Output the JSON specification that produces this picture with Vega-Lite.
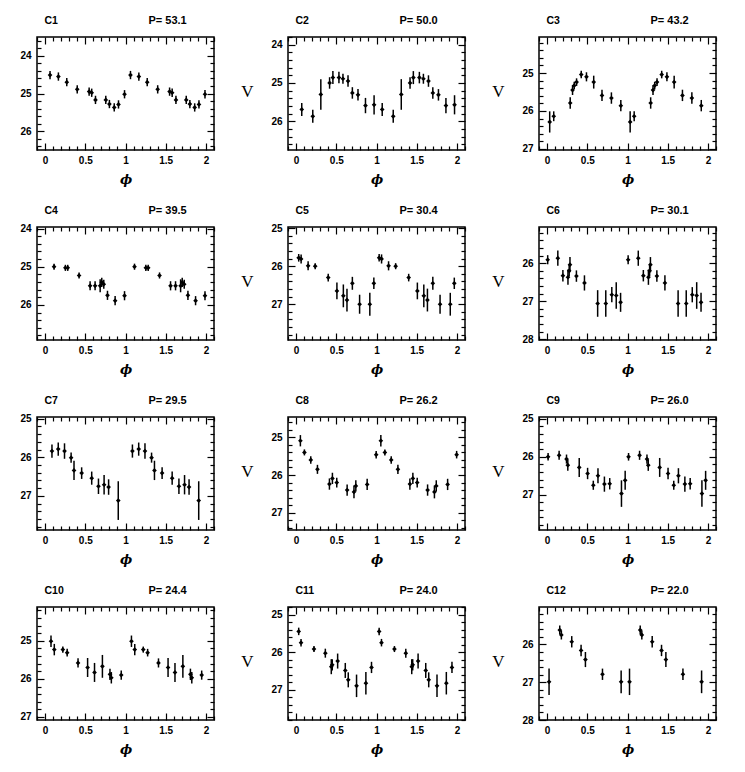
{
"$schema":"https://vega.github.io/schema/vega-lite/v6.json",
"padding":{"left":19,"top":13,"right":5,"bottom":5},
"background":"white",
"data":{"values":[
{"c":"C1","x":0.062,"v":24.51,"e":0.11},{"c":"C1","x":0.166,"v":24.55,"e":0.11},{"c":"C1","x":0.27,"v":24.7,"e":0.11},{"c":"C1","x":0.4,"v":24.89,"e":0.11},{"c":"C1","x":0.548,"v":24.95,"e":0.11},{"c":"C1","x":0.58,"v":24.98,"e":0.11},{"c":"C1","x":0.627,"v":25.17,"e":0.11},{"c":"C1","x":0.755,"v":25.17,"e":0.11},{"c":"C1","x":0.8,"v":25.28,"e":0.11},{"c":"C1","x":0.86,"v":25.37,"e":0.11},{"c":"C1","x":0.913,"v":25.29,"e":0.11},{"c":"C1","x":0.988,"v":25.02,"e":0.11},
{"c":"C1","x":1.062,"v":24.51,"e":0.11},{"c":"C1","x":1.166,"v":24.55,"e":0.11},{"c":"C1","x":1.27,"v":24.7,"e":0.11},{"c":"C1","x":1.4,"v":24.89,"e":0.11},{"c":"C1","x":1.548,"v":24.95,"e":0.11},{"c":"C1","x":1.58,"v":24.98,"e":0.11},{"c":"C1","x":1.627,"v":25.17,"e":0.11},{"c":"C1","x":1.755,"v":25.17,"e":0.11},{"c":"C1","x":1.8,"v":25.28,"e":0.11},{"c":"C1","x":1.86,"v":25.37,"e":0.11},{"c":"C1","x":1.913,"v":25.29,"e":0.11},{"c":"C1","x":1.988,"v":25.02,"e":0.11},
{"c":"C2","x":0.071,"v":25.69,"e":0.17},{"c":"C2","x":0.208,"v":25.87,"e":0.17},{"c":"C2","x":0.308,"v":25.3,"e":0.4},{"c":"C2","x":0.417,"v":25.0,"e":0.15},{"c":"C2","x":0.458,"v":24.86,"e":0.17},{"c":"C2","x":0.533,"v":24.86,"e":0.15},{"c":"C2","x":0.583,"v":24.89,"e":0.13},{"c":"C2","x":0.646,"v":24.95,"e":0.15},{"c":"C2","x":0.7,"v":25.26,"e":0.15},{"c":"C2","x":0.77,"v":25.31,"e":0.15},{"c":"C2","x":0.863,"v":25.59,"e":0.2},{"c":"C2","x":0.97,"v":25.57,"e":0.25},
{"c":"C2","x":1.071,"v":25.69,"e":0.17},{"c":"C2","x":1.208,"v":25.87,"e":0.17},{"c":"C2","x":1.308,"v":25.3,"e":0.4},{"c":"C2","x":1.417,"v":25.0,"e":0.15},{"c":"C2","x":1.458,"v":24.86,"e":0.17},{"c":"C2","x":1.533,"v":24.86,"e":0.15},{"c":"C2","x":1.583,"v":24.89,"e":0.13},{"c":"C2","x":1.646,"v":24.95,"e":0.15},{"c":"C2","x":1.7,"v":25.26,"e":0.15},{"c":"C2","x":1.77,"v":25.31,"e":0.15},{"c":"C2","x":1.863,"v":25.59,"e":0.2},{"c":"C2","x":1.97,"v":25.57,"e":0.25},
{"c":"C3","x":0.033,"v":26.29,"e":0.28},{"c":"C3","x":0.083,"v":26.14,"e":0.13},{"c":"C3","x":0.288,"v":25.79,"e":0.15},{"c":"C3","x":0.317,"v":25.45,"e":0.13},{"c":"C3","x":0.338,"v":25.33,"e":0.1},{"c":"C3","x":0.367,"v":25.24,"e":0.1},{"c":"C3","x":0.425,"v":25.04,"e":0.1},{"c":"C3","x":0.49,"v":25.1,"e":0.12},{"c":"C3","x":0.58,"v":25.24,"e":0.17},{"c":"C3","x":0.683,"v":25.59,"e":0.15},{"c":"C3","x":0.8,"v":25.66,"e":0.15},{"c":"C3","x":0.917,"v":25.86,"e":0.15},
{"c":"C3","x":1.033,"v":26.29,"e":0.28},{"c":"C3","x":1.083,"v":26.14,"e":0.13},{"c":"C3","x":1.288,"v":25.79,"e":0.15},{"c":"C3","x":1.317,"v":25.45,"e":0.13},{"c":"C3","x":1.338,"v":25.33,"e":0.1},{"c":"C3","x":1.367,"v":25.24,"e":0.1},{"c":"C3","x":1.425,"v":25.04,"e":0.1},{"c":"C3","x":1.49,"v":25.1,"e":0.12},{"c":"C3","x":1.58,"v":25.24,"e":0.17},{"c":"C3","x":1.683,"v":25.59,"e":0.15},{"c":"C3","x":1.8,"v":25.66,"e":0.15},{"c":"C3","x":1.917,"v":25.86,"e":0.15},
{"c":"C4","x":0.112,"v":25.0,"e":0.08},{"c":"C4","x":0.253,"v":25.03,"e":0.08},{"c":"C4","x":0.282,"v":25.03,"e":0.08},{"c":"C4","x":0.423,"v":25.23,"e":0.08},{"c":"C4","x":0.56,"v":25.5,"e":0.12},{"c":"C4","x":0.622,"v":25.5,"e":0.12},{"c":"C4","x":0.685,"v":25.5,"e":0.17},{"c":"C4","x":0.705,"v":25.41,"e":0.12},{"c":"C4","x":0.73,"v":25.46,"e":0.12},{"c":"C4","x":0.776,"v":25.75,"e":0.12},{"c":"C4","x":0.871,"v":25.89,"e":0.12},{"c":"C4","x":0.988,"v":25.76,"e":0.12},
{"c":"C4","x":1.112,"v":25.0,"e":0.08},{"c":"C4","x":1.253,"v":25.03,"e":0.08},{"c":"C4","x":1.282,"v":25.03,"e":0.08},{"c":"C4","x":1.423,"v":25.23,"e":0.08},{"c":"C4","x":1.56,"v":25.5,"e":0.12},{"c":"C4","x":1.622,"v":25.5,"e":0.12},{"c":"C4","x":1.685,"v":25.5,"e":0.17},{"c":"C4","x":1.705,"v":25.41,"e":0.12},{"c":"C4","x":1.73,"v":25.46,"e":0.12},{"c":"C4","x":1.776,"v":25.75,"e":0.12},{"c":"C4","x":1.871,"v":25.89,"e":0.12},{"c":"C4","x":1.988,"v":25.76,"e":0.12},
{"c":"C5","x":0.033,"v":25.78,"e":0.1},{"c":"C5","x":0.063,"v":25.81,"e":0.12},{"c":"C5","x":0.15,"v":25.99,"e":0.12},{"c":"C5","x":0.238,"v":26.0,"e":0.08},{"c":"C5","x":0.4,"v":26.3,"e":0.1},{"c":"C5","x":0.508,"v":26.65,"e":0.22},{"c":"C5","x":0.588,"v":26.78,"e":0.3},{"c":"C5","x":0.633,"v":26.89,"e":0.3},{"c":"C5","x":0.7,"v":26.45,"e":0.17},{"c":"C5","x":0.79,"v":27.0,"e":0.25},{"c":"C5","x":0.917,"v":27.0,"e":0.3},{"c":"C5","x":0.967,"v":26.45,"e":0.15},
{"c":"C5","x":1.033,"v":25.78,"e":0.1},{"c":"C5","x":1.063,"v":25.81,"e":0.12},{"c":"C5","x":1.15,"v":25.99,"e":0.12},{"c":"C5","x":1.238,"v":26.0,"e":0.08},{"c":"C5","x":1.4,"v":26.3,"e":0.1},{"c":"C5","x":1.508,"v":26.65,"e":0.22},{"c":"C5","x":1.588,"v":26.78,"e":0.3},{"c":"C5","x":1.633,"v":26.89,"e":0.3},{"c":"C5","x":1.7,"v":26.45,"e":0.17},{"c":"C5","x":1.79,"v":27.0,"e":0.25},{"c":"C5","x":1.917,"v":27.0,"e":0.3},{"c":"C5","x":1.967,"v":26.45,"e":0.15},
{"c":"C6","x":0.008,"v":25.91,"e":0.12},{"c":"C6","x":0.134,"v":25.87,"e":0.2},{"c":"C6","x":0.197,"v":26.33,"e":0.15},{"c":"C6","x":0.26,"v":26.37,"e":0.2},{"c":"C6","x":0.275,"v":26.2,"e":0.15},{"c":"C6","x":0.285,"v":26.04,"e":0.2},{"c":"C6","x":0.365,"v":26.34,"e":0.15},{"c":"C6","x":0.465,"v":26.52,"e":0.2},{"c":"C6","x":0.629,"v":27.06,"e":0.35},{"c":"C6","x":0.73,"v":27.06,"e":0.35},{"c":"C6","x":0.805,"v":26.83,"e":0.2},{"c":"C6","x":0.86,"v":26.85,"e":0.35},{"c":"C6","x":0.914,"v":27.03,"e":0.25},
{"c":"C6","x":1.008,"v":25.91,"e":0.12},{"c":"C6","x":1.134,"v":25.87,"e":0.2},{"c":"C6","x":1.197,"v":26.33,"e":0.15},{"c":"C6","x":1.26,"v":26.37,"e":0.2},{"c":"C6","x":1.275,"v":26.2,"e":0.15},{"c":"C6","x":1.285,"v":26.04,"e":0.2},{"c":"C6","x":1.365,"v":26.34,"e":0.15},{"c":"C6","x":1.465,"v":26.52,"e":0.2},{"c":"C6","x":1.629,"v":27.06,"e":0.35},{"c":"C6","x":1.73,"v":27.06,"e":0.35},{"c":"C6","x":1.805,"v":26.83,"e":0.2},{"c":"C6","x":1.86,"v":26.85,"e":0.35},{"c":"C6","x":1.914,"v":27.03,"e":0.25},
{"c":"C7","x":0.086,"v":25.84,"e":0.17},{"c":"C7","x":0.164,"v":25.79,"e":0.17},{"c":"C7","x":0.242,"v":25.84,"e":0.2},{"c":"C7","x":0.324,"v":26.01,"e":0.13},{"c":"C7","x":0.36,"v":26.34,"e":0.25},{"c":"C7","x":0.455,"v":26.41,"e":0.15},{"c":"C7","x":0.58,"v":26.54,"e":0.17},{"c":"C7","x":0.664,"v":26.75,"e":0.2},{"c":"C7","x":0.734,"v":26.71,"e":0.25},{"c":"C7","x":0.79,"v":26.77,"e":0.2},{"c":"C7","x":0.91,"v":27.12,"e":0.5},
{"c":"C7","x":1.086,"v":25.84,"e":0.17},{"c":"C7","x":1.164,"v":25.79,"e":0.17},{"c":"C7","x":1.242,"v":25.84,"e":0.2},{"c":"C7","x":1.324,"v":26.01,"e":0.13},{"c":"C7","x":1.36,"v":26.34,"e":0.25},{"c":"C7","x":1.455,"v":26.41,"e":0.15},{"c":"C7","x":1.58,"v":26.54,"e":0.17},{"c":"C7","x":1.664,"v":26.75,"e":0.2},{"c":"C7","x":1.734,"v":26.71,"e":0.25},{"c":"C7","x":1.79,"v":26.77,"e":0.2},{"c":"C7","x":1.91,"v":27.12,"e":0.5},
{"c":"C8","x":0.054,"v":25.09,"e":0.15},{"c":"C8","x":0.104,"v":25.4,"e":0.08},{"c":"C8","x":0.183,"v":25.6,"e":0.1},{"c":"C8","x":0.266,"v":25.85,"e":0.12},{"c":"C8","x":0.415,"v":26.24,"e":0.15},{"c":"C8","x":0.452,"v":26.09,"e":0.15},{"c":"C8","x":0.506,"v":26.2,"e":0.13},{"c":"C8","x":0.635,"v":26.4,"e":0.15},{"c":"C8","x":0.72,"v":26.45,"e":0.17},{"c":"C8","x":0.743,"v":26.29,"e":0.15},{"c":"C8","x":0.884,"v":26.25,"e":0.15},{"c":"C8","x":0.996,"v":25.46,"e":0.1},
{"c":"C8","x":1.054,"v":25.09,"e":0.15},{"c":"C8","x":1.104,"v":25.4,"e":0.08},{"c":"C8","x":1.183,"v":25.6,"e":0.1},{"c":"C8","x":1.266,"v":25.85,"e":0.12},{"c":"C8","x":1.415,"v":26.24,"e":0.15},{"c":"C8","x":1.452,"v":26.09,"e":0.15},{"c":"C8","x":1.506,"v":26.2,"e":0.13},{"c":"C8","x":1.635,"v":26.4,"e":0.15},{"c":"C8","x":1.72,"v":26.45,"e":0.17},{"c":"C8","x":1.743,"v":26.29,"e":0.15},{"c":"C8","x":1.884,"v":26.25,"e":0.15},{"c":"C8","x":1.996,"v":25.46,"e":0.1},
{"c":"C9","x":0.013,"v":26.0,"e":0.1},{"c":"C9","x":0.15,"v":25.96,"e":0.12},{"c":"C9","x":0.242,"v":26.06,"e":0.12},{"c":"C9","x":0.258,"v":26.22,"e":0.15},{"c":"C9","x":0.4,"v":26.28,"e":0.25},{"c":"C9","x":0.504,"v":26.44,"e":0.15},{"c":"C9","x":0.575,"v":26.75,"e":0.12},{"c":"C9","x":0.633,"v":26.5,"e":0.2},{"c":"C9","x":0.713,"v":26.72,"e":0.2},{"c":"C9","x":0.779,"v":26.71,"e":0.15},{"c":"C9","x":0.925,"v":26.97,"e":0.35},{"c":"C9","x":0.971,"v":26.62,"e":0.25},
{"c":"C9","x":1.013,"v":26.0,"e":0.1},{"c":"C9","x":1.15,"v":25.96,"e":0.12},{"c":"C9","x":1.242,"v":26.06,"e":0.12},{"c":"C9","x":1.258,"v":26.22,"e":0.15},{"c":"C9","x":1.4,"v":26.28,"e":0.25},{"c":"C9","x":1.504,"v":26.44,"e":0.15},{"c":"C9","x":1.575,"v":26.75,"e":0.12},{"c":"C9","x":1.633,"v":26.5,"e":0.2},{"c":"C9","x":1.713,"v":26.72,"e":0.2},{"c":"C9","x":1.779,"v":26.71,"e":0.15},{"c":"C9","x":1.925,"v":26.97,"e":0.35},{"c":"C9","x":1.971,"v":26.62,"e":0.25},
{"c":"C10","x":0.074,"v":25.01,"e":0.15},{"c":"C10","x":0.115,"v":25.23,"e":0.15},{"c":"C10","x":0.221,"v":25.23,"e":0.08},{"c":"C10","x":0.275,"v":25.31,"e":0.1},{"c":"C10","x":0.41,"v":25.58,"e":0.12},{"c":"C10","x":0.529,"v":25.7,"e":0.25},{"c":"C10","x":0.615,"v":25.83,"e":0.25},{"c":"C10","x":0.713,"v":25.67,"e":0.3},{"c":"C10","x":0.807,"v":25.88,"e":0.15},{"c":"C10","x":0.824,"v":25.97,"e":0.15},{"c":"C10","x":0.947,"v":25.9,"e":0.12},
{"c":"C10","x":1.074,"v":25.01,"e":0.15},{"c":"C10","x":1.115,"v":25.23,"e":0.15},{"c":"C10","x":1.221,"v":25.23,"e":0.08},{"c":"C10","x":1.275,"v":25.31,"e":0.1},{"c":"C10","x":1.41,"v":25.58,"e":0.12},{"c":"C10","x":1.529,"v":25.7,"e":0.25},{"c":"C10","x":1.615,"v":25.83,"e":0.25},{"c":"C10","x":1.713,"v":25.67,"e":0.3},{"c":"C10","x":1.807,"v":25.88,"e":0.15},{"c":"C10","x":1.824,"v":25.97,"e":0.15},{"c":"C10","x":1.947,"v":25.9,"e":0.12},
{"c":"C11","x":0.033,"v":25.44,"e":0.1},{"c":"C11","x":0.062,"v":25.74,"e":0.1},{"c":"C11","x":0.223,"v":25.91,"e":0.08},{"c":"C11","x":0.364,"v":26.02,"e":0.12},{"c":"C11","x":0.438,"v":26.38,"e":0.2},{"c":"C11","x":0.45,"v":26.33,"e":0.15},{"c":"C11","x":0.517,"v":26.23,"e":0.2},{"c":"C11","x":0.612,"v":26.48,"e":0.2},{"c":"C11","x":0.649,"v":26.73,"e":0.2},{"c":"C11","x":0.752,"v":26.89,"e":0.3},{"c":"C11","x":0.868,"v":26.82,"e":0.3},{"c":"C11","x":0.938,"v":26.4,"e":0.15},
{"c":"C11","x":1.033,"v":25.44,"e":0.1},{"c":"C11","x":1.062,"v":25.74,"e":0.1},{"c":"C11","x":1.223,"v":25.91,"e":0.08},{"c":"C11","x":1.364,"v":26.02,"e":0.12},{"c":"C11","x":1.438,"v":26.38,"e":0.2},{"c":"C11","x":1.45,"v":26.33,"e":0.15},{"c":"C11","x":1.517,"v":26.23,"e":0.2},{"c":"C11","x":1.612,"v":26.48,"e":0.2},{"c":"C11","x":1.649,"v":26.73,"e":0.2},{"c":"C11","x":1.752,"v":26.89,"e":0.3},{"c":"C11","x":1.868,"v":26.82,"e":0.3},{"c":"C11","x":1.938,"v":26.4,"e":0.15},
{"c":"C12","x":0.025,"v":26.99,"e":0.35},{"c":"C12","x":0.158,"v":25.62,"e":0.12},{"c":"C12","x":0.178,"v":25.75,"e":0.12},{"c":"C12","x":0.307,"v":25.93,"e":0.15},{"c":"C12","x":0.423,"v":26.16,"e":0.15},{"c":"C12","x":0.477,"v":26.4,"e":0.2},{"c":"C12","x":0.689,"v":26.79,"e":0.15},{"c":"C12","x":0.921,"v":26.99,"e":0.3},
{"c":"C12","x":1.025,"v":26.99,"e":0.35},{"c":"C12","x":1.158,"v":25.62,"e":0.12},{"c":"C12","x":1.178,"v":25.75,"e":0.12},{"c":"C12","x":1.307,"v":25.93,"e":0.15},{"c":"C12","x":1.423,"v":26.16,"e":0.15},{"c":"C12","x":1.477,"v":26.4,"e":0.2},{"c":"C12","x":1.689,"v":26.79,"e":0.15},{"c":"C12","x":1.921,"v":26.99,"e":0.3}
]},
"spacing":16,
"vconcat":[
{"spacing":74,"bounds":"flush","hconcat":[
{"width":177,"height":113,"transform":[{"filter":{"field":"c","equal":"C1"}}],"resolve":{"axis":{"x":"independent","y":"independent"}},"layer":[
{"mark":{"type":"errorbar","color":"black","thickness":1.5},"encoding":{"x":{"field":"x","type":"quantitative","scale":{"domain":[-0.1,2.1],"nice":false},"axis":{"orient":"bottom","tickCount":22,"tickSize":{"condition":{"test":"abs(datum.value*2-round(datum.value*2))<1e-6","value":-7},"value":-4},"labelPadding":12,"labelExpr":"abs(datum.value*2-round(datum.value*2))<1e-6 ? ''+datum.value : ''","title":"ϕ","titleY":29}},"y":{"field":"v","type":"quantitative","scale":{"domain":[23.5,26.5],"reverse":true,"nice":false,"zero":false},"axis":{"orient":"left","tickCount":15,"tickSize":{"condition":{"test":"abs(datum.value-round(datum.value))<1e-6","value":-7},"value":-4},"labelPadding":13,"labelExpr":"abs(datum.value-round(datum.value))<1e-6 ? ''+datum.value : ''","title":null}},"yError":{"field":"e"}}},
{"mark":{"type":"point","shape":"diamond","filled":true,"size":22,"color":"black","opacity":1},"encoding":{"x":{"field":"x","type":"quantitative","axis":{"orient":"top","tickCount":22,"tickSize":{"condition":{"test":"abs(datum.value*2-round(datum.value*2))<1e-6","value":-7},"value":-4},"labels":false,"title":"C1","titleX":7,"titleY":-17,"titleAlign":"left","titleBaseline":"middle","titleFont":"Liberation Sans","titleFontSize":10.5,"titleFontWeight":"bold"}},"y":{"field":"v","type":"quantitative","axis":{"orient":"right","tickCount":15,"tickSize":{"condition":{"test":"abs(datum.value-round(datum.value))<1e-6","value":-7},"value":-4},"labels":false,"title":"P= 53.1","titleAngle":0,"titleX":-66,"titleY":-17,"titleAlign":"left","titleBaseline":"middle","titleFont":"Liberation Sans","titleFontSize":11,"titleFontWeight":"bold"}}}}
]},
{"width":177,"height":113,"transform":[{"filter":{"field":"c","equal":"C2"}}],"resolve":{"axis":{"x":"independent","y":"independent"}},"layer":[
{"mark":{"type":"errorbar","color":"black","thickness":1.5},"encoding":{"x":{"field":"x","type":"quantitative","scale":{"domain":[-0.1,2.1],"nice":false},"axis":{"orient":"bottom","tickCount":22,"tickSize":{"condition":{"test":"abs(datum.value*2-round(datum.value*2))<1e-6","value":-7},"value":-4},"labelPadding":12,"labelExpr":"abs(datum.value*2-round(datum.value*2))<1e-6 ? ''+datum.value : ''","title":"ϕ","titleY":29}},"y":{"field":"v","type":"quantitative","scale":{"domain":[23.8,26.75],"reverse":true,"nice":false,"zero":false},"axis":{"orient":"left","tickCount":15,"tickSize":{"condition":{"test":"abs(datum.value-round(datum.value))<1e-6","value":-7},"value":-4},"labelPadding":13,"labelExpr":"abs(datum.value-round(datum.value))<1e-6 ? ''+datum.value : ''","title":"V","titleAngle":0,"titleX":-41,"titleY":54,"titleAlign":"center","titleBaseline":"middle","titleFont":"Liberation Serif","titleFontSize":17,"titleFontWeight":"normal"}},"yError":{"field":"e"}}},
{"mark":{"type":"point","shape":"diamond","filled":true,"size":22,"color":"black","opacity":1},"encoding":{"x":{"field":"x","type":"quantitative","axis":{"orient":"top","tickCount":22,"tickSize":{"condition":{"test":"abs(datum.value*2-round(datum.value*2))<1e-6","value":-7},"value":-4},"labels":false,"title":"C2","titleX":7,"titleY":-17,"titleAlign":"left","titleBaseline":"middle","titleFont":"Liberation Sans","titleFontSize":10.5,"titleFontWeight":"bold"}},"y":{"field":"v","type":"quantitative","axis":{"orient":"right","tickCount":15,"tickSize":{"condition":{"test":"abs(datum.value-round(datum.value))<1e-6","value":-7},"value":-4},"labels":false,"title":"P= 50.0","titleAngle":0,"titleX":-66,"titleY":-17,"titleAlign":"left","titleBaseline":"middle","titleFont":"Liberation Sans","titleFontSize":11,"titleFontWeight":"bold"}}}}
]},
{"width":177,"height":113,"transform":[{"filter":{"field":"c","equal":"C3"}}],"resolve":{"axis":{"x":"independent","y":"independent"}},"layer":[
{"mark":{"type":"errorbar","color":"black","thickness":1.5},"encoding":{"x":{"field":"x","type":"quantitative","scale":{"domain":[-0.1,2.1],"nice":false},"axis":{"orient":"bottom","tickCount":22,"tickSize":{"condition":{"test":"abs(datum.value*2-round(datum.value*2))<1e-6","value":-7},"value":-4},"labelPadding":12,"labelExpr":"abs(datum.value*2-round(datum.value*2))<1e-6 ? ''+datum.value : ''","title":"ϕ","titleY":29}},"y":{"field":"v","type":"quantitative","scale":{"domain":[24.05,27.03],"reverse":true,"nice":false,"zero":false},"axis":{"orient":"left","tickCount":15,"tickSize":{"condition":{"test":"abs(datum.value-round(datum.value))<1e-6","value":-7},"value":-4},"labelPadding":13,"labelExpr":"abs(datum.value-round(datum.value))<1e-6 ? ''+datum.value : ''","title":"V","titleAngle":0,"titleX":-41,"titleY":54,"titleAlign":"center","titleBaseline":"middle","titleFont":"Liberation Serif","titleFontSize":17,"titleFontWeight":"normal"}},"yError":{"field":"e"}}},
{"mark":{"type":"point","shape":"diamond","filled":true,"size":22,"color":"black","opacity":1},"encoding":{"x":{"field":"x","type":"quantitative","axis":{"orient":"top","tickCount":22,"tickSize":{"condition":{"test":"abs(datum.value*2-round(datum.value*2))<1e-6","value":-7},"value":-4},"labels":false,"title":"C3","titleX":7,"titleY":-17,"titleAlign":"left","titleBaseline":"middle","titleFont":"Liberation Sans","titleFontSize":10.5,"titleFontWeight":"bold"}},"y":{"field":"v","type":"quantitative","axis":{"orient":"right","tickCount":15,"tickSize":{"condition":{"test":"abs(datum.value-round(datum.value))<1e-6","value":-7},"value":-4},"labels":false,"title":"P= 43.2","titleAngle":0,"titleX":-66,"titleY":-17,"titleAlign":"left","titleBaseline":"middle","titleFont":"Liberation Sans","titleFontSize":11,"titleFontWeight":"bold"}}}}
]}
]},
{"spacing":74,"bounds":"flush","hconcat":[
{"width":177,"height":113,"transform":[{"filter":{"field":"c","equal":"C4"}}],"resolve":{"axis":{"x":"independent","y":"independent"}},"layer":[
{"mark":{"type":"errorbar","color":"black","thickness":1.5},"encoding":{"x":{"field":"x","type":"quantitative","scale":{"domain":[-0.1,2.1],"nice":false},"axis":{"orient":"bottom","tickCount":22,"tickSize":{"condition":{"test":"abs(datum.value*2-round(datum.value*2))<1e-6","value":-7},"value":-4},"labelPadding":12,"labelExpr":"abs(datum.value*2-round(datum.value*2))<1e-6 ? ''+datum.value : ''","title":"ϕ","titleY":29}},"y":{"field":"v","type":"quantitative","scale":{"domain":[23.96,26.92],"reverse":true,"nice":false,"zero":false},"axis":{"orient":"left","tickCount":15,"tickSize":{"condition":{"test":"abs(datum.value-round(datum.value))<1e-6","value":-7},"value":-4},"labelPadding":13,"labelExpr":"abs(datum.value-round(datum.value))<1e-6 ? ''+datum.value : ''","title":null}},"yError":{"field":"e"}}},
{"mark":{"type":"point","shape":"diamond","filled":true,"size":22,"color":"black","opacity":1},"encoding":{"x":{"field":"x","type":"quantitative","axis":{"orient":"top","tickCount":22,"tickSize":{"condition":{"test":"abs(datum.value*2-round(datum.value*2))<1e-6","value":-7},"value":-4},"labels":false,"title":"C4","titleX":7,"titleY":-17,"titleAlign":"left","titleBaseline":"middle","titleFont":"Liberation Sans","titleFontSize":10.5,"titleFontWeight":"bold"}},"y":{"field":"v","type":"quantitative","axis":{"orient":"right","tickCount":15,"tickSize":{"condition":{"test":"abs(datum.value-round(datum.value))<1e-6","value":-7},"value":-4},"labels":false,"title":"P= 39.5","titleAngle":0,"titleX":-66,"titleY":-17,"titleAlign":"left","titleBaseline":"middle","titleFont":"Liberation Sans","titleFontSize":11,"titleFontWeight":"bold"}}}}
]},
{"width":177,"height":113,"transform":[{"filter":{"field":"c","equal":"C5"}}],"resolve":{"axis":{"x":"independent","y":"independent"}},"layer":[
{"mark":{"type":"errorbar","color":"black","thickness":1.5},"encoding":{"x":{"field":"x","type":"quantitative","scale":{"domain":[-0.1,2.1],"nice":false},"axis":{"orient":"bottom","tickCount":22,"tickSize":{"condition":{"test":"abs(datum.value*2-round(datum.value*2))<1e-6","value":-7},"value":-4},"labelPadding":12,"labelExpr":"abs(datum.value*2-round(datum.value*2))<1e-6 ? ''+datum.value : ''","title":"ϕ","titleY":29}},"y":{"field":"v","type":"quantitative","scale":{"domain":[24.97,27.94],"reverse":true,"nice":false,"zero":false},"axis":{"orient":"left","tickCount":15,"tickSize":{"condition":{"test":"abs(datum.value-round(datum.value))<1e-6","value":-7},"value":-4},"labelPadding":13,"labelExpr":"abs(datum.value-round(datum.value))<1e-6 ? ''+datum.value : ''","title":"V","titleAngle":0,"titleX":-41,"titleY":54,"titleAlign":"center","titleBaseline":"middle","titleFont":"Liberation Serif","titleFontSize":17,"titleFontWeight":"normal"}},"yError":{"field":"e"}}},
{"mark":{"type":"point","shape":"diamond","filled":true,"size":22,"color":"black","opacity":1},"encoding":{"x":{"field":"x","type":"quantitative","axis":{"orient":"top","tickCount":22,"tickSize":{"condition":{"test":"abs(datum.value*2-round(datum.value*2))<1e-6","value":-7},"value":-4},"labels":false,"title":"C5","titleX":7,"titleY":-17,"titleAlign":"left","titleBaseline":"middle","titleFont":"Liberation Sans","titleFontSize":10.5,"titleFontWeight":"bold"}},"y":{"field":"v","type":"quantitative","axis":{"orient":"right","tickCount":15,"tickSize":{"condition":{"test":"abs(datum.value-round(datum.value))<1e-6","value":-7},"value":-4},"labels":false,"title":"P= 30.4","titleAngle":0,"titleX":-66,"titleY":-17,"titleAlign":"left","titleBaseline":"middle","titleFont":"Liberation Sans","titleFontSize":11,"titleFontWeight":"bold"}}}}
]},
{"width":177,"height":113,"transform":[{"filter":{"field":"c","equal":"C6"}}],"resolve":{"axis":{"x":"independent","y":"independent"}},"layer":[
{"mark":{"type":"errorbar","color":"black","thickness":1.5},"encoding":{"x":{"field":"x","type":"quantitative","scale":{"domain":[-0.1,2.1],"nice":false},"axis":{"orient":"bottom","tickCount":22,"tickSize":{"condition":{"test":"abs(datum.value*2-round(datum.value*2))<1e-6","value":-7},"value":-4},"labelPadding":12,"labelExpr":"abs(datum.value*2-round(datum.value*2))<1e-6 ? ''+datum.value : ''","title":"ϕ","titleY":29}},"y":{"field":"v","type":"quantitative","scale":{"domain":[25.05,28.02],"reverse":true,"nice":false,"zero":false},"axis":{"orient":"left","tickCount":15,"tickSize":{"condition":{"test":"abs(datum.value-round(datum.value))<1e-6","value":-7},"value":-4},"labelPadding":13,"labelExpr":"abs(datum.value-round(datum.value))<1e-6 ? ''+datum.value : ''","title":"V","titleAngle":0,"titleX":-41,"titleY":54,"titleAlign":"center","titleBaseline":"middle","titleFont":"Liberation Serif","titleFontSize":17,"titleFontWeight":"normal"}},"yError":{"field":"e"}}},
{"mark":{"type":"point","shape":"diamond","filled":true,"size":22,"color":"black","opacity":1},"encoding":{"x":{"field":"x","type":"quantitative","axis":{"orient":"top","tickCount":22,"tickSize":{"condition":{"test":"abs(datum.value*2-round(datum.value*2))<1e-6","value":-7},"value":-4},"labels":false,"title":"C6","titleX":7,"titleY":-17,"titleAlign":"left","titleBaseline":"middle","titleFont":"Liberation Sans","titleFontSize":10.5,"titleFontWeight":"bold"}},"y":{"field":"v","type":"quantitative","axis":{"orient":"right","tickCount":15,"tickSize":{"condition":{"test":"abs(datum.value-round(datum.value))<1e-6","value":-7},"value":-4},"labels":false,"title":"P= 30.1","titleAngle":0,"titleX":-66,"titleY":-17,"titleAlign":"left","titleBaseline":"middle","titleFont":"Liberation Sans","titleFontSize":11,"titleFontWeight":"bold"}}}}
]}
]},
{"spacing":74,"bounds":"flush","hconcat":[
{"width":177,"height":113,"transform":[{"filter":{"field":"c","equal":"C7"}}],"resolve":{"axis":{"x":"independent","y":"independent"}},"layer":[
{"mark":{"type":"errorbar","color":"black","thickness":1.5},"encoding":{"x":{"field":"x","type":"quantitative","scale":{"domain":[-0.1,2.1],"nice":false},"axis":{"orient":"bottom","tickCount":22,"tickSize":{"condition":{"test":"abs(datum.value*2-round(datum.value*2))<1e-6","value":-7},"value":-4},"labelPadding":12,"labelExpr":"abs(datum.value*2-round(datum.value*2))<1e-6 ? ''+datum.value : ''","title":"ϕ","titleY":29}},"y":{"field":"v","type":"quantitative","scale":{"domain":[24.96,27.88],"reverse":true,"nice":false,"zero":false},"axis":{"orient":"left","tickCount":15,"tickSize":{"condition":{"test":"abs(datum.value-round(datum.value))<1e-6","value":-7},"value":-4},"labelPadding":13,"labelExpr":"abs(datum.value-round(datum.value))<1e-6 ? ''+datum.value : ''","title":null}},"yError":{"field":"e"}}},
{"mark":{"type":"point","shape":"diamond","filled":true,"size":22,"color":"black","opacity":1},"encoding":{"x":{"field":"x","type":"quantitative","axis":{"orient":"top","tickCount":22,"tickSize":{"condition":{"test":"abs(datum.value*2-round(datum.value*2))<1e-6","value":-7},"value":-4},"labels":false,"title":"C7","titleX":7,"titleY":-17,"titleAlign":"left","titleBaseline":"middle","titleFont":"Liberation Sans","titleFontSize":10.5,"titleFontWeight":"bold"}},"y":{"field":"v","type":"quantitative","axis":{"orient":"right","tickCount":15,"tickSize":{"condition":{"test":"abs(datum.value-round(datum.value))<1e-6","value":-7},"value":-4},"labels":false,"title":"P= 29.5","titleAngle":0,"titleX":-66,"titleY":-17,"titleAlign":"left","titleBaseline":"middle","titleFont":"Liberation Sans","titleFontSize":11,"titleFontWeight":"bold"}}}}
]},
{"width":177,"height":113,"transform":[{"filter":{"field":"c","equal":"C8"}}],"resolve":{"axis":{"x":"independent","y":"independent"}},"layer":[
{"mark":{"type":"errorbar","color":"black","thickness":1.5},"encoding":{"x":{"field":"x","type":"quantitative","scale":{"domain":[-0.1,2.1],"nice":false},"axis":{"orient":"bottom","tickCount":22,"tickSize":{"condition":{"test":"abs(datum.value*2-round(datum.value*2))<1e-6","value":-7},"value":-4},"labelPadding":12,"labelExpr":"abs(datum.value*2-round(datum.value*2))<1e-6 ? ''+datum.value : ''","title":"ϕ","titleY":29}},"y":{"field":"v","type":"quantitative","scale":{"domain":[24.46,27.46],"reverse":true,"nice":false,"zero":false},"axis":{"orient":"left","tickCount":15,"tickSize":{"condition":{"test":"abs(datum.value-round(datum.value))<1e-6","value":-7},"value":-4},"labelPadding":13,"labelExpr":"abs(datum.value-round(datum.value))<1e-6 ? ''+datum.value : ''","title":"V","titleAngle":0,"titleX":-41,"titleY":54,"titleAlign":"center","titleBaseline":"middle","titleFont":"Liberation Serif","titleFontSize":17,"titleFontWeight":"normal"}},"yError":{"field":"e"}}},
{"mark":{"type":"point","shape":"diamond","filled":true,"size":22,"color":"black","opacity":1},"encoding":{"x":{"field":"x","type":"quantitative","axis":{"orient":"top","tickCount":22,"tickSize":{"condition":{"test":"abs(datum.value*2-round(datum.value*2))<1e-6","value":-7},"value":-4},"labels":false,"title":"C8","titleX":7,"titleY":-17,"titleAlign":"left","titleBaseline":"middle","titleFont":"Liberation Sans","titleFontSize":10.5,"titleFontWeight":"bold"}},"y":{"field":"v","type":"quantitative","axis":{"orient":"right","tickCount":15,"tickSize":{"condition":{"test":"abs(datum.value-round(datum.value))<1e-6","value":-7},"value":-4},"labels":false,"title":"P= 26.2","titleAngle":0,"titleX":-66,"titleY":-17,"titleAlign":"left","titleBaseline":"middle","titleFont":"Liberation Sans","titleFontSize":11,"titleFontWeight":"bold"}}}}
]},
{"width":177,"height":113,"transform":[{"filter":{"field":"c","equal":"C9"}}],"resolve":{"axis":{"x":"independent","y":"independent"}},"layer":[
{"mark":{"type":"errorbar","color":"black","thickness":1.5},"encoding":{"x":{"field":"x","type":"quantitative","scale":{"domain":[-0.1,2.1],"nice":false},"axis":{"orient":"bottom","tickCount":22,"tickSize":{"condition":{"test":"abs(datum.value*2-round(datum.value*2))<1e-6","value":-7},"value":-4},"labelPadding":12,"labelExpr":"abs(datum.value*2-round(datum.value*2))<1e-6 ? ''+datum.value : ''","title":"ϕ","titleY":29}},"y":{"field":"v","type":"quantitative","scale":{"domain":[24.95,27.93],"reverse":true,"nice":false,"zero":false},"axis":{"orient":"left","tickCount":15,"tickSize":{"condition":{"test":"abs(datum.value-round(datum.value))<1e-6","value":-7},"value":-4},"labelPadding":13,"labelExpr":"abs(datum.value-round(datum.value))<1e-6 ? ''+datum.value : ''","title":"V","titleAngle":0,"titleX":-41,"titleY":54,"titleAlign":"center","titleBaseline":"middle","titleFont":"Liberation Serif","titleFontSize":17,"titleFontWeight":"normal"}},"yError":{"field":"e"}}},
{"mark":{"type":"point","shape":"diamond","filled":true,"size":22,"color":"black","opacity":1},"encoding":{"x":{"field":"x","type":"quantitative","axis":{"orient":"top","tickCount":22,"tickSize":{"condition":{"test":"abs(datum.value*2-round(datum.value*2))<1e-6","value":-7},"value":-4},"labels":false,"title":"C9","titleX":7,"titleY":-17,"titleAlign":"left","titleBaseline":"middle","titleFont":"Liberation Sans","titleFontSize":10.5,"titleFontWeight":"bold"}},"y":{"field":"v","type":"quantitative","axis":{"orient":"right","tickCount":15,"tickSize":{"condition":{"test":"abs(datum.value-round(datum.value))<1e-6","value":-7},"value":-4},"labels":false,"title":"P= 26.0","titleAngle":0,"titleX":-66,"titleY":-17,"titleAlign":"left","titleBaseline":"middle","titleFont":"Liberation Sans","titleFontSize":11,"titleFontWeight":"bold"}}}}
]}
]},
{"spacing":74,"bounds":"flush","hconcat":[
{"width":177,"height":113,"transform":[{"filter":{"field":"c","equal":"C10"}}],"resolve":{"axis":{"x":"independent","y":"independent"}},"layer":[
{"mark":{"type":"errorbar","color":"black","thickness":1.5},"encoding":{"x":{"field":"x","type":"quantitative","scale":{"domain":[-0.1,2.1],"nice":false},"axis":{"orient":"bottom","tickCount":22,"tickSize":{"condition":{"test":"abs(datum.value*2-round(datum.value*2))<1e-6","value":-7},"value":-4},"labelPadding":12,"labelExpr":"abs(datum.value*2-round(datum.value*2))<1e-6 ? ''+datum.value : ''","title":"ϕ","titleY":29}},"y":{"field":"v","type":"quantitative","scale":{"domain":[24.11,27.08],"reverse":true,"nice":false,"zero":false},"axis":{"orient":"left","tickCount":15,"tickSize":{"condition":{"test":"abs(datum.value-round(datum.value))<1e-6","value":-7},"value":-4},"labelPadding":13,"labelExpr":"abs(datum.value-round(datum.value))<1e-6 ? ''+datum.value : ''","title":null}},"yError":{"field":"e"}}},
{"mark":{"type":"point","shape":"diamond","filled":true,"size":22,"color":"black","opacity":1},"encoding":{"x":{"field":"x","type":"quantitative","axis":{"orient":"top","tickCount":22,"tickSize":{"condition":{"test":"abs(datum.value*2-round(datum.value*2))<1e-6","value":-7},"value":-4},"labels":false,"title":"C10","titleX":7,"titleY":-17,"titleAlign":"left","titleBaseline":"middle","titleFont":"Liberation Sans","titleFontSize":10.5,"titleFontWeight":"bold"}},"y":{"field":"v","type":"quantitative","axis":{"orient":"right","tickCount":15,"tickSize":{"condition":{"test":"abs(datum.value-round(datum.value))<1e-6","value":-7},"value":-4},"labels":false,"title":"P= 24.4","titleAngle":0,"titleX":-66,"titleY":-17,"titleAlign":"left","titleBaseline":"middle","titleFont":"Liberation Sans","titleFontSize":11,"titleFontWeight":"bold"}}}}
]},
{"width":177,"height":113,"transform":[{"filter":{"field":"c","equal":"C11"}}],"resolve":{"axis":{"x":"independent","y":"independent"}},"layer":[
{"mark":{"type":"errorbar","color":"black","thickness":1.5},"encoding":{"x":{"field":"x","type":"quantitative","scale":{"domain":[-0.1,2.1],"nice":false},"axis":{"orient":"bottom","tickCount":22,"tickSize":{"condition":{"test":"abs(datum.value*2-round(datum.value*2))<1e-6","value":-7},"value":-4},"labelPadding":12,"labelExpr":"abs(datum.value*2-round(datum.value*2))<1e-6 ? ''+datum.value : ''","title":"ϕ","titleY":29}},"y":{"field":"v","type":"quantitative","scale":{"domain":[24.79,27.8],"reverse":true,"nice":false,"zero":false},"axis":{"orient":"left","tickCount":15,"tickSize":{"condition":{"test":"abs(datum.value-round(datum.value))<1e-6","value":-7},"value":-4},"labelPadding":13,"labelExpr":"abs(datum.value-round(datum.value))<1e-6 ? ''+datum.value : ''","title":"V","titleAngle":0,"titleX":-41,"titleY":54,"titleAlign":"center","titleBaseline":"middle","titleFont":"Liberation Serif","titleFontSize":17,"titleFontWeight":"normal"}},"yError":{"field":"e"}}},
{"mark":{"type":"point","shape":"diamond","filled":true,"size":22,"color":"black","opacity":1},"encoding":{"x":{"field":"x","type":"quantitative","axis":{"orient":"top","tickCount":22,"tickSize":{"condition":{"test":"abs(datum.value*2-round(datum.value*2))<1e-6","value":-7},"value":-4},"labels":false,"title":"C11","titleX":7,"titleY":-17,"titleAlign":"left","titleBaseline":"middle","titleFont":"Liberation Sans","titleFontSize":10.5,"titleFontWeight":"bold"}},"y":{"field":"v","type":"quantitative","axis":{"orient":"right","tickCount":15,"tickSize":{"condition":{"test":"abs(datum.value-round(datum.value))<1e-6","value":-7},"value":-4},"labels":false,"title":"P= 24.0","titleAngle":0,"titleX":-66,"titleY":-17,"titleAlign":"left","titleBaseline":"middle","titleFont":"Liberation Sans","titleFontSize":11,"titleFontWeight":"bold"}}}}
]},
{"width":177,"height":113,"transform":[{"filter":{"field":"c","equal":"C12"}}],"resolve":{"axis":{"x":"independent","y":"independent"}},"layer":[
{"mark":{"type":"errorbar","color":"black","thickness":1.5},"encoding":{"x":{"field":"x","type":"quantitative","scale":{"domain":[-0.1,2.1],"nice":false},"axis":{"orient":"bottom","tickCount":22,"tickSize":{"condition":{"test":"abs(datum.value*2-round(datum.value*2))<1e-6","value":-7},"value":-4},"labelPadding":12,"labelExpr":"abs(datum.value*2-round(datum.value*2))<1e-6 ? ''+datum.value : ''","title":"ϕ","titleY":29}},"y":{"field":"v","type":"quantitative","scale":{"domain":[25.01,28.0],"reverse":true,"nice":false,"zero":false},"axis":{"orient":"left","tickCount":15,"tickSize":{"condition":{"test":"abs(datum.value-round(datum.value))<1e-6","value":-7},"value":-4},"labelPadding":13,"labelExpr":"abs(datum.value-round(datum.value))<1e-6 ? ''+datum.value : ''","title":"V","titleAngle":0,"titleX":-41,"titleY":54,"titleAlign":"center","titleBaseline":"middle","titleFont":"Liberation Serif","titleFontSize":17,"titleFontWeight":"normal"}},"yError":{"field":"e"}}},
{"mark":{"type":"point","shape":"diamond","filled":true,"size":22,"color":"black","opacity":1},"encoding":{"x":{"field":"x","type":"quantitative","axis":{"orient":"top","tickCount":22,"tickSize":{"condition":{"test":"abs(datum.value*2-round(datum.value*2))<1e-6","value":-7},"value":-4},"labels":false,"title":"C12","titleX":7,"titleY":-17,"titleAlign":"left","titleBaseline":"middle","titleFont":"Liberation Sans","titleFontSize":10.5,"titleFontWeight":"bold"}},"y":{"field":"v","type":"quantitative","axis":{"orient":"right","tickCount":15,"tickSize":{"condition":{"test":"abs(datum.value-round(datum.value))<1e-6","value":-7},"value":-4},"labels":false,"title":"P= 22.0","titleAngle":0,"titleX":-66,"titleY":-17,"titleAlign":"left","titleBaseline":"middle","titleFont":"Liberation Sans","titleFontSize":11,"titleFontWeight":"bold"}}}}
]}
]}
],
"config":{
"view":{"stroke":"black","strokeWidth":1.5,"fill":"white"},
"axis":{"grid":false,"domain":false,"tickColor":"black","tickWidth":1.2,"labelFont":"Liberation Sans","labelFontSize":10,"labelFontWeight":"bold","labelColor":"black","labelOverlap":false,"labelFlush":false,"titleColor":"black"},
"axisBottom":{"titleFont":"DejaVu Serif","titleFontStyle":"italic","titleFontWeight":"bold","titleFontSize":13,"titleBaseline":"middle"}
}
}
